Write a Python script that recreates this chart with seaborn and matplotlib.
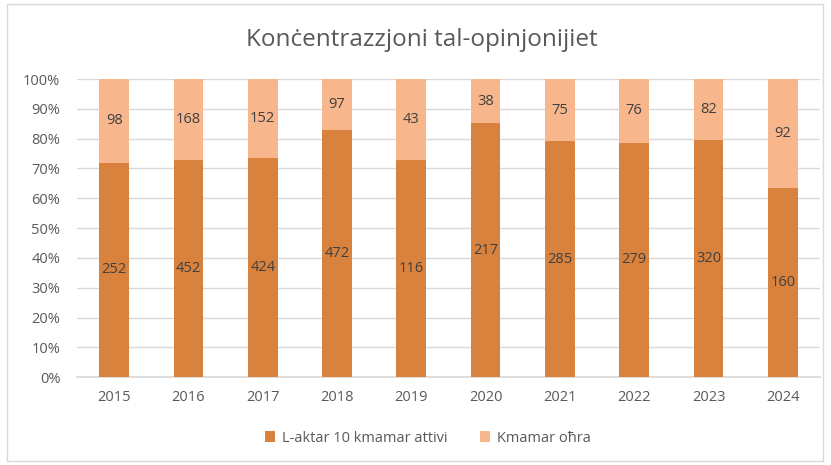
import matplotlib
matplotlib.use("Agg")
import matplotlib.pyplot as plt
import seaborn as sns
import pandas as pd
import numpy as np
from matplotlib.patches import Rectangle

years = ["2015", "2016", "2017", "2018", "2019", "2020", "2021", "2022", "2023", "2024"]
top10 = [252, 452, 424, 472, 116, 217, 285, 279, 320, 160]
others = [98, 168, 152, 97, 43, 38, 75, 76, 82, 92]
series_names = ["L-aktar 10 kmamar attivi", "Kmamar oħra"]
title = "Konċentrazzjoni tal-opinjonijiet"

c_bottom = "#D8823E"
c_top = "#F8B68C"
txt = "#595959"

sns.set_theme(style="white")
plt.rcParams['font.family'] = ['Open Sans', 'DejaVu Sans']

tot = np.array(top10) + np.array(others)
df = pd.DataFrame({
    "year": years,
    "bottom": np.array(top10) / tot * 100,
    "total": np.full(len(years), 100.0),
})

fig = plt.figure(figsize=(8.31, 4.65), dpi=100)
ax = fig.add_axes([0.0927, 0.189, 0.894, 0.641])

sns.barplot(data=df, x="year", y="total", color=c_top, width=0.4, ax=ax,
            saturation=1, label=series_names[1], zorder=2, linewidth=0, edgecolor="none")
sns.barplot(data=df, x="year", y="bottom", color=c_bottom, width=0.4, ax=ax,
            saturation=1, label=series_names[0], zorder=3, linewidth=0, edgecolor="none")

for i in range(len(years)):
    b = df["bottom"][i]
    ax.text(i, b / 2, str(top10[i]), ha="center", va="center", fontsize=10.5, color="#404040", zorder=5)
    ax.text(i, b + (100 - b) / 2, str(others[i]), ha="center", va="center", fontsize=10.5, color="#404040", zorder=5)

ax.set_ylim(0, 100)
ax.set_xlim(-0.5, len(years) - 0.5)
ax.set_yticks(np.arange(0, 101, 10))
ax.set_yticklabels([f"{v}%" for v in range(0, 101, 10)])
ax.yaxis.grid(True, color="#D9D9D9", linewidth=1, zorder=0)
ax.set_axisbelow(True)
for s in ["top", "right", "left"]:
    ax.spines[s].set_visible(False)
ax.spines["bottom"].set_color("#D9D9D9")
ax.tick_params(axis="both", colors=txt, labelsize=10.5, length=0)
ax.tick_params(axis="y", pad=12)
ax.tick_params(axis="x", pad=9)
ax.set_xlabel("")
ax.set_ylabel("")

fig.text(0.507, 0.915, title, ha="center", va="center", fontsize=17.5, color=txt)

handles, labels = ax.get_legend_handles_labels()
order = [labels.index(series_names[0]), labels.index(series_names[1])]
leg = fig.legend([handles[k] for k in order], [labels[k] for k in order],
                 loc="center", bbox_to_anchor=(0.515, 0.058), ncol=2, frameon=False,
                 fontsize=10.5, handlelength=0.7, handleheight=0.7, columnspacing=2.2,
                 handletextpad=0.5)
for t in leg.get_texts():
    t.set_color(txt)
ax.get_legend() and ax.get_legend().remove()

fig.patches.append(Rectangle((0.008, 0.008), 0.982, 0.984, transform=fig.transFigure,
                             fill=False, edgecolor="#D9D9D9", linewidth=1))

fig.savefig("out.png", dpi=100)
